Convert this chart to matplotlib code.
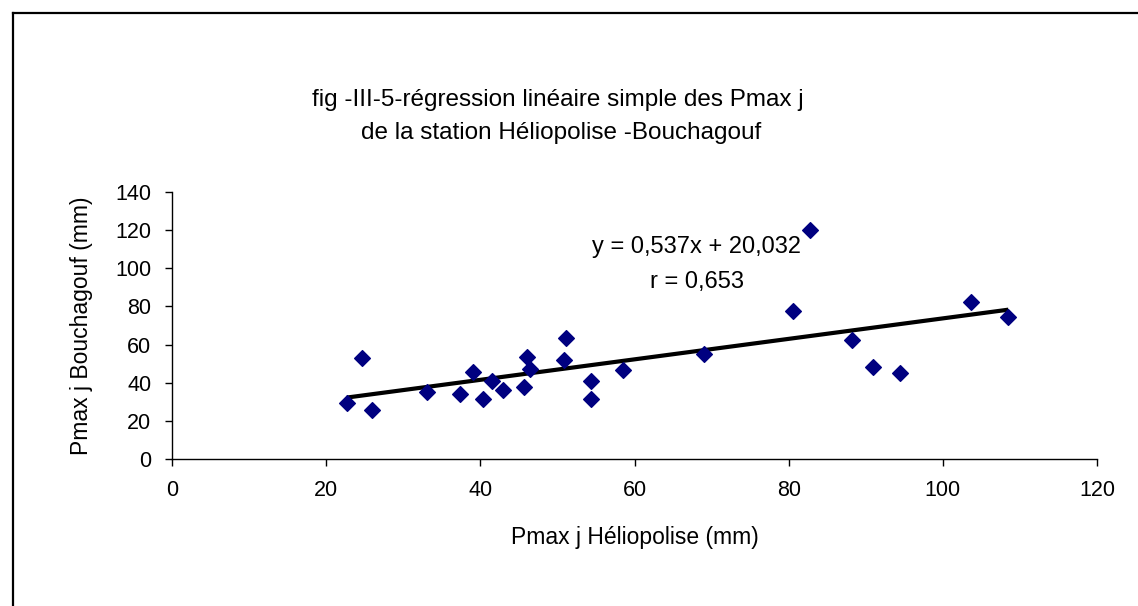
import matplotlib.pyplot as plt
from matplotlib.lines import Line2D

plt.rcParams['font.family'] = ['Liberation Sans', 'DejaVu Sans']

# Pmax j Héliopolise (mm)
x_helio = [22.7, 24.7, 25.9, 33.1, 37.3, 39.1, 40.3, 41.5, 43.0, 45.7,
           46.0, 46.5, 50.8, 51.1, 54.3, 54.3, 58.5, 69.0, 80.6, 82.8,
           88.2, 90.9, 94.4, 103.7, 108.5]
# Pmax j Bouchagouf (mm)
y_bouch = [29.2, 53.0, 25.6, 35.2, 34.0, 45.7, 31.4, 40.8, 36.1, 37.9,
           53.6, 47.1, 51.8, 63.7, 41.0, 31.4, 46.6, 55.3, 77.6, 120.0,
           62.3, 48.3, 44.9, 82.4, 74.2]

slope = 0.537
intercept = 20.032
eq_text = "y = 0,537x + 20,032"
r_text = "r = 0,653"

x_ticks = [0, 20, 40, 60, 80, 100, 120]
y_ticks = [0, 20, 40, 60, 80, 100, 120, 140]

fig = plt.figure(figsize=(11.38, 6.06), dpi=100)

# chart frame (only top and left edges visible in the picture)
fig.add_artist(Line2D([13/1138, 1.0], [1 - 13/606, 1 - 13/606], color='black', lw=1.6))
fig.add_artist(Line2D([13/1138, 13/1138], [0.0, 1 - 13/606], color='black', lw=1.6))

ax = fig.add_axes([172/1138, 147/606, 925/1138, 267/606])

ax.scatter(x_helio, y_bouch, marker='D', s=64, color='#000080', zorder=3)

x0, x1 = min(x_helio), max(x_helio)
ax.plot([x0, x1], [slope * x0 + intercept, slope * x1 + intercept],
        color='black', lw=3, zorder=2, solid_capstyle='butt')

ax.text(68.1, 111, eq_text, ha='center', va='center', fontsize=17)
ax.text(68.1, 93, r_text, ha='center', va='center', fontsize=17)

ax.set_xlim(0, 120)
ax.set_ylim(0, 140)
ax.set_xticks(x_ticks)
ax.set_yticks(y_ticks)
ax.tick_params(labelsize=15.5, length=5, width=1, direction='out', pad=10)
for s in ['top', 'right']:
    ax.spines[s].set_visible(False)
for s in ['left', 'bottom']:
    ax.spines[s].set_linewidth(1)

ax.set_xlabel("Pmax j Héliopolise (mm)", fontsize=16.5, labelpad=18)
ax.set_ylabel("Pmax j Bouchagouf (mm)", fontsize=16.5, labelpad=16)

fig.text(558/1138, 1 - 100/606, "fig -III-5-régression linéaire simple des Pmax j",
         ha='center', va='center', fontsize=17.5)
fig.text(561/1138, 1 - 133/606, "de la station Héliopolise -Bouchagouf",
         ha='center', va='center', fontsize=17.5)

fig.savefig("out.png", dpi=100)
